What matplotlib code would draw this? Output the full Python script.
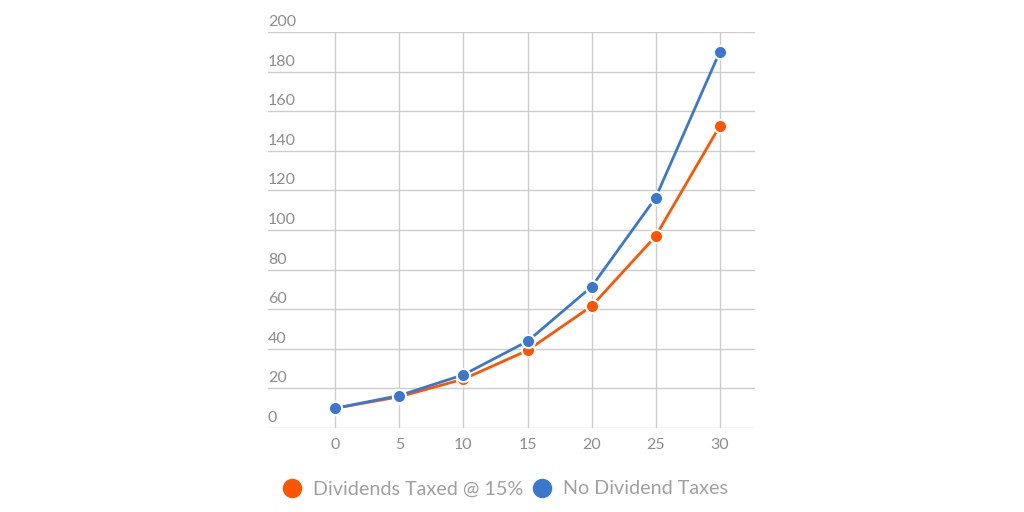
import matplotlib
matplotlib.use("Agg")
import matplotlib.pyplot as plt
from matplotlib.lines import Line2D

plt.rcParams['font.family'] = ['Lato', 'DejaVu Sans']

years = [0, 5, 10, 15, 20, 25, 30]
taxed = [10, 15.8, 24.7, 39.2, 61.5, 96.8, 152.3]
untaxed = [10, 16.4, 26.9, 43.8, 71.3, 116.2, 189.7]
series_names = ["Dividends Taxed @ 15%", "No Dividend Taxes"]
y_ticks = [0, 20, 40, 60, 80, 100, 120, 140, 160, 180, 200]
x_ticks = [0, 5, 10, 15, 20, 25, 30]

orange = '#FF5500'
blue = '#3A78D0'
grid_c = '#CCCCCC'
text_c = '#8C8C8C'

fig = plt.figure(figsize=(10.24, 5.12), dpi=100)
ax = fig.add_axes([268/1024, 84/512, (755-268)/1024, (428-32)/512])

for s, c in [(taxed, orange), (untaxed, blue)]:
    ax.plot(years, s, color=c, lw=2, marker='o', ms=9.5, mfc=c,
            mec='white', mew=1.5, zorder=3, clip_on=False)

ax.set_xlim(-5.27, 32.77)
ax.set_ylim(0, 200)
ax.set_xticks(x_ticks)
ax.set_yticks(y_ticks)
ax.set_yticklabels([])
ax.set_xticklabels([str(v) for v in x_ticks], color=text_c, fontsize=11.5)
ax.tick_params(axis='x', length=0, pad=7)
ax.tick_params(axis='y', length=0)
ax.grid(True, color=grid_c, lw=1)
ax.set_axisbelow(True)
for sp in ax.spines.values():
    sp.set_visible(False)

for v in y_ticks:
    ax.annotate(str(v), xy=(0, v), xycoords=('axes fraction', 'data'),
                xytext=(0, 4.3), textcoords='offset points',
                ha='left', va='baseline', color=text_c, fontsize=11.5)

handles = [Line2D([], [], ls='none', marker='o', ms=13, mfc=orange, mec=orange),
           Line2D([], [], ls='none', marker='o', ms=13, mfc=blue, mec=blue)]
leg = fig.legend(handles, series_names, loc='center', bbox_to_anchor=(505/1024, 1 - 489/512),
                 ncol=2, frameon=False, fontsize=14.2, handletextpad=0.55,
                 columnspacing=0.45, handlelength=1.0)
for t in leg.get_texts():
    t.set_color('#A0A0A0')

fig.savefig('out.png', dpi=100)
